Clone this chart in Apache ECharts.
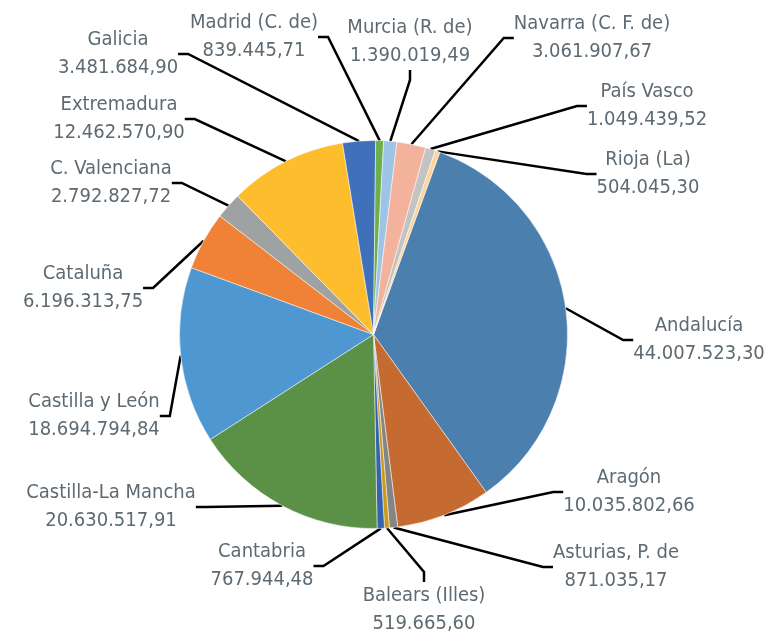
<!DOCTYPE html>
<html>
<head>
<meta charset="utf-8">
<script src="https://cdn.jsdelivr.net/npm/echarts@6/dist/echarts.min.js"></script>
<style>
  html, body { margin: 0; padding: 0; background: #fff; }
  #chart { width: 773px; height: 634px; }
</style>
</head>
<body>
<div id="chart"></div>
<script>
// datos por comunidad autónoma (orden de la hoja)
var regiones = ['Andalucía', 'Aragón', 'Asturias, P. de', 'Balears (Illes)', 'Cantabria',
  'Castilla-La Mancha', 'Castilla y León', 'Cataluña', 'C. Valenciana', 'Extremadura',
  'Galicia', 'Madrid (C. de)', 'Murcia (R. de)', 'Navarra (C. F. de)', 'País Vasco', 'Rioja (La)'];
var importes = [44007523.30, 10035802.66, 871035.17, 519665.60, 767944.48,
  20630517.91, 18694794.84, 6196313.75, 2792827.72, 12462570.90,
  3481684.90, 839445.71, 1390019.49, 3061907.67, 1049439.52, 504045.30];
var colores = ['#4a7fae', '#c56a30', '#858585', '#c99a1c', '#3563ad',
  '#5a9146', '#4f97d1', '#f08237', '#9fa2a2', '#fdbd2c',
  '#3f70b9', '#6bb04a', '#9dc3e6', '#f3b29c', '#c3c3c3', '#fdd49a'];

// posición (centro) de cada etiqueta
var posEtiquetas = {
  'Andalucía': [699, 340], 'Aragón': [629, 492], 'Asturias, P. de': [616, 567],
  'Balears (Illes)': [424, 610], 'Cantabria': [262, 566], 'Castilla-La Mancha': [111, 507],
  'Castilla y León': [94, 416], 'Cataluña': [83, 288], 'C. Valenciana': [111, 183],
  'Extremadura': [119, 119], 'Galicia': [118, 54], 'Madrid (C. de)': [254, 37],
  'Murcia (R. de)': [410, 42], 'Navarra (C. F. de)': [592, 38], 'País Vasco': [647, 106],
  'Rioja (La)': [648, 174]
};

function formatoES(v) {
  var partes = v.toFixed(2).split('.');
  return partes[0].replace(/\B(?=(\d{3})+(?!\d))/g, '.') + ',' + partes[1];
}

var datos = regiones.map(function (r, i) {
  return { name: r, value: importes[i], itemStyle: { color: colores[i] } };
});

var myChart = echarts.init(document.getElementById('chart'));
myChart.setOption({
  animation: false,
  backgroundColor: '#fff',
  series: [{
    type: 'pie',
    center: [373.5, 334.5],
    radius: 194,
    startAngle: 70,
    clockwise: true,
    avoidLabelOverlap: false,
    data: datos,
    itemStyle: { borderColor: '#fff', borderWidth: 0.5 },
    label: {
      show: true,
      position: 'outside',
      color: '#5e6a72',
      fontFamily: "'DejaVu Sans Condensed', sans-serif",
      fontSize: 20,
      lineHeight: 28,
      align: 'center',
      formatter: function (p) { return p.name + '\n' + formatoES(p.value); }
    },
    labelLine: {
      show: true,
      length: 15,
      length2: 10,
      lineStyle: { color: '#000', width: 2.5 }
    },
    labelLayout: function (p) {
      var pos = posEtiquetas[regiones[p.dataIndex]];
      return { x: pos[0], y: pos[1], align: 'center', verticalAlign: 'middle' };
    }
  }]
});
</script>
</body>
</html>
